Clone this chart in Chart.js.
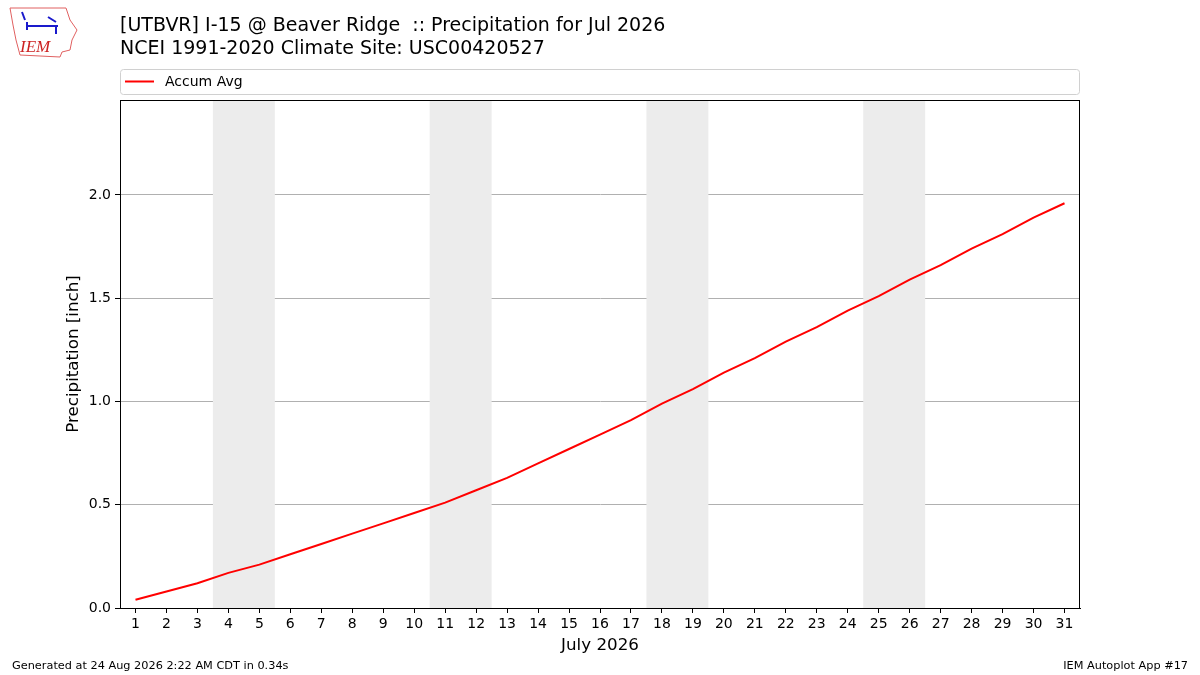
<!DOCTYPE html>
<html>
<head>
<meta charset="utf-8">
<script src="https://cdn.jsdelivr.net/npm/chart.js@4"></script>
<style>
  html, body { margin: 0; padding: 0; background: #fff; }
  #wrap { width: 1200px; height: 675px; position: relative; }
</style>
</head>
<body>
<div id="wrap"><canvas id="myChart" width="1200" height="675"></canvas></div>
<script>
const days = Array.from({ length: 31 }, (_, i) => i + 1);
const accumAvg = [0.04, 0.08, 0.12, 0.17, 0.21, 0.26, 0.31, 0.36, 0.41, 0.46,
  0.51, 0.57, 0.63, 0.70, 0.77, 0.84, 0.91, 0.99, 1.06, 1.14,
  1.21, 1.29, 1.36, 1.44, 1.51, 1.59, 1.66, 1.74, 1.81, 1.89, 1.96];
const yTicks = [0, 0.5, 1.0, 1.5, 2.0];
const weekends = [[3.5, 5.5], [10.5, 12.5], [17.5, 19.5], [24.5, 26.5]];
const titleLines = ['[UTBVR] I-15 @ Beaver Ridge  :: Precipitation for Jul 2026',
  'NCEI 1991-2020 Climate Site: USC00420527'];
const footerLeft = 'Generated at 24 Aug 2026 2:22 AM CDT in 0.34s';
const footerRight = 'IEM Autoplot App #17';

const FONT = 'DejaVu Sans';

// shaded weekends behind the line
const weekendShade = {
  id: 'weekendShade',
  beforeDatasetsDraw(chart) {
    const { ctx, chartArea, scales } = chart;
    ctx.save();
    ctx.fillStyle = '#ececec';
    weekends.forEach(([a, b]) => {
      const x0 = scales.x.getPixelForValue(a);
      const x1 = scales.x.getPixelForValue(b);
      ctx.fillRect(x0, chartArea.top, x1 - x0, chartArea.bottom - chartArea.top);
    });
    ctx.restore();
  }
};

// titles, legend box, frame, footer, logo
const decorations = {
  id: 'decorations',
  afterDraw(chart) {
    const { ctx, chartArea } = chart;
    ctx.save();

    // frame
    ctx.strokeStyle = '#000';
    ctx.lineWidth = 1;
    ctx.strokeRect(chartArea.left + 0.5, chartArea.top + 0.5,
      chartArea.right - chartArea.left - 1, chartArea.bottom - chartArea.top);

    // title
    ctx.fillStyle = '#000';
    ctx.font = '19px ' + FONT;
    ctx.textBaseline = 'alphabetic';
    ctx.textAlign = 'left';
    ctx.fillText(titleLines[0], 120, 31);
    ctx.fillText(titleLines[1], 120, 54);

    // legend box
    const ds = chart.data.datasets[0];
    ctx.strokeStyle = '#d0d0d0';
    ctx.lineWidth = 1;
    ctx.beginPath();
    ctx.roundRect(120.5, 69.5, 959, 25, 3);
    ctx.stroke();
    ctx.strokeStyle = ds.borderColor;
    ctx.lineWidth = 2;
    ctx.beginPath();
    ctx.moveTo(125, 81.5);
    ctx.lineTo(154, 81.5);
    ctx.stroke();
    ctx.fillStyle = '#000';
    ctx.font = '14px ' + FONT;
    ctx.textBaseline = 'middle';
    ctx.fillText(ds.label, 165, 82);

    // footer
    ctx.font = '11.3px ' + FONT;
    ctx.textBaseline = 'alphabetic';
    ctx.fillText(footerLeft, 12, 669);
    ctx.textAlign = 'right';
    ctx.fillText(footerRight, 1188, 669);

    // logo
    ctx.strokeStyle = '#e06060';
    ctx.lineWidth = 1;
    ctx.beginPath();
    ctx.moveTo(10, 8); ctx.lineTo(66, 8); ctx.lineTo(70, 20); ctx.lineTo(77, 30);
    ctx.lineTo(72, 40); ctx.lineTo(70, 50); ctx.lineTo(62, 52); ctx.lineTo(60, 57);
    ctx.lineTo(20, 55); ctx.lineTo(16, 40); ctx.lineTo(13, 25); ctx.closePath();
    ctx.stroke();
    ctx.strokeStyle = '#1a1acc';
    ctx.lineWidth = 2;
    ctx.beginPath();
    ctx.moveTo(27, 26); ctx.lineTo(58, 26);
    ctx.moveTo(27, 22); ctx.lineTo(27, 30);
    ctx.moveTo(48, 17); ctx.lineTo(56, 22);
    ctx.moveTo(56, 26); ctx.lineTo(56, 34);
    ctx.moveTo(22, 12); ctx.lineTo(25, 20);
    ctx.stroke();
    ctx.fillStyle = '#cc2222';
    ctx.font = 'italic 17px "Liberation Serif"';
    ctx.textAlign = 'left';
    ctx.fillText('IEM', 20, 52);

    ctx.restore();
  }
};

new Chart(document.getElementById('myChart'), {
  type: 'line',
  data: {
    datasets: [{
      label: 'Accum Avg',
      data: days.map((d, i) => ({ x: d, y: accumAvg[i] })),
      borderColor: '#ff0000',
      backgroundColor: '#ff0000',
      borderWidth: 2,
      pointRadius: 0,
      tension: 0,
    }]
  },
  options: {
    responsive: false,
    animation: false,
    devicePixelRatio: 1,
    layout: {
      padding: { left: 64, top: 100, right: 120, bottom: 19 }
    },
    plugins: {
      legend: { display: false },
      tooltip: { enabled: false },
      title: { display: false }
    },
    scales: {
      x: {
        type: 'linear',
        min: 0.5,
        max: 31.5,
        afterBuildTicks: s => { s.ticks = days.map(d => ({ value: d })); },
        afterFit: s => { s.height = 675 - 19 - 608; },
        ticks: {
          color: '#000',
          font: { family: FONT, size: 14 },
          maxRotation: 0,
          autoSkip: false,
          padding: 3,
        },
        grid: {
          drawOnChartArea: false,
          color: '#000',
          tickColor: '#000',
          tickLength: 5,
        },
        border: { color: '#000' },
        title: {
          display: true,
          text: 'July 2026',
          color: '#000',
          font: { family: FONT, size: 16.7 },
          padding: { top: 0, bottom: 0 },
        }
      },
      y: {
        min: 0,
        max: 2.46,
        afterBuildTicks: s => { s.ticks = yTicks.map(v => ({ value: v })); },
        afterFit: s => { s.width = 120 - 64; },
        ticks: {
          color: '#000',
          font: { family: FONT, size: 14 },
          padding: 4,
          callback: v => v.toFixed(1),
        },
        grid: {
          color: '#b0b0b0',
          tickColor: '#000',
          tickLength: 5,
        },
        border: { color: '#000' },
        title: {
          display: true,
          text: 'Precipitation [inch]',
          color: '#000',
          font: { family: FONT, size: 16.7 },
          padding: { top: 0, bottom: 0 },
        }
      }
    }
  },
  plugins: [weekendShade, decorations]
});
</script>
</body>
</html>
